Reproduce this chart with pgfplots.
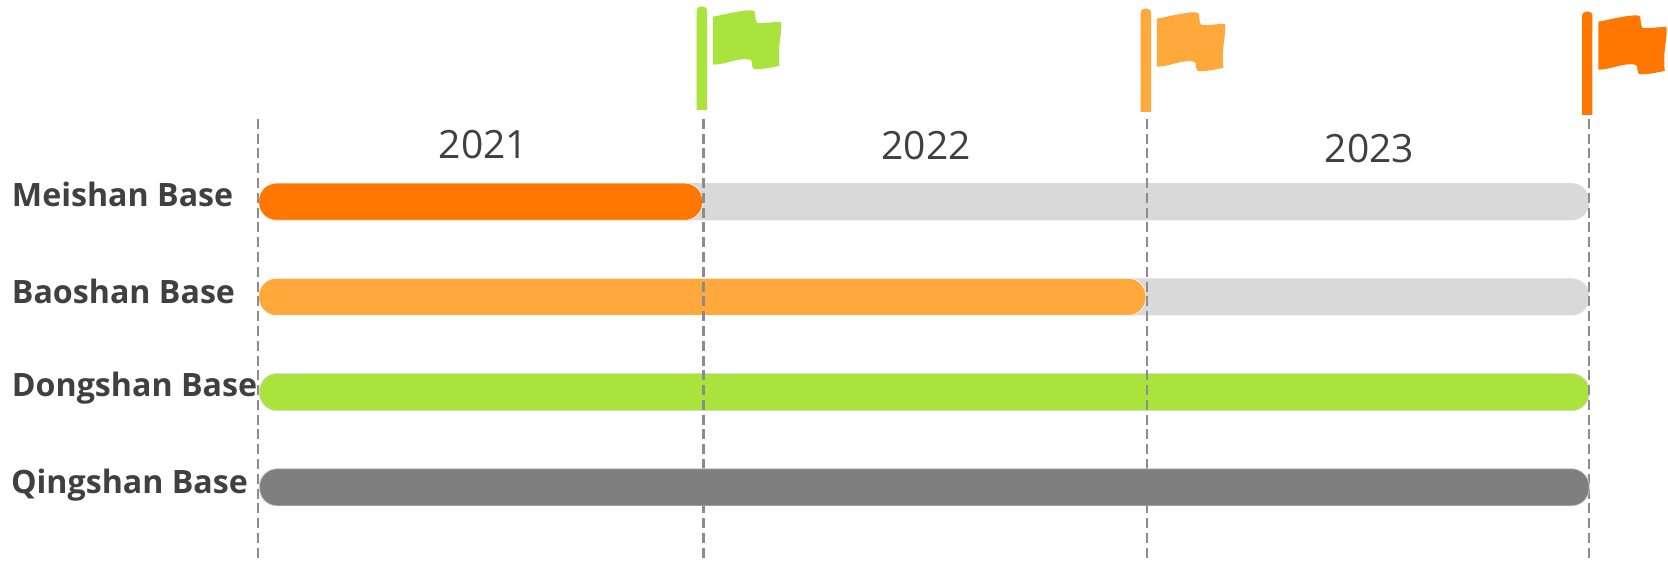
\documentclass[border=0pt]{standalone}
\usepackage{pgfplots}
\pgfplotsset{compat=1.18}
\usepackage{fontspec}
\setmainfont{Open Sans}
\definecolor{barDark}{HTML}{FF7600}
\definecolor{barLight}{HTML}{FFA93C}
\definecolor{barGreen}{HTML}{A9E33B}
\definecolor{barGrey}{HTML}{7F7F7F}
\definecolor{barTrack}{HTML}{D9D9D9}
\definecolor{guide}{HTML}{8C8C8C}
\definecolor{labelInk}{HTML}{404040}
% Pole and waving flag, origin at the foot of the pole
\pgfdeclareplotmark{milestone}{%
  \pgfpathmoveto{\pgfqpoint{-2.6pt}{0pt}}%
  \pgfpathlineto{\pgfqpoint{-2.6pt}{49.4pt}}%
  \pgfpathcurveto{\pgfqpoint{-2.6pt}{52.6pt}}{\pgfqpoint{2.6pt}{52.6pt}}{\pgfqpoint{2.6pt}{49.4pt}}%
  \pgfpathlineto{\pgfqpoint{2.6pt}{0pt}}%
  \pgfpathclose
  \pgfpathmoveto{\pgfqpoint{5.5pt}{46.6pt}}%
  \pgfpathcurveto{\pgfqpoint{13pt}{48pt}}{\pgfqpoint{22pt}{50.5pt}}{\pgfqpoint{26pt}{49.6pt}}%
  \pgfpathcurveto{\pgfqpoint{27.2pt}{49pt}}{\pgfqpoint{26.2pt}{45pt}}{\pgfqpoint{27.6pt}{43.6pt}}%
  \pgfpathcurveto{\pgfqpoint{30pt}{43pt}}{\pgfqpoint{35pt}{44pt}}{\pgfqpoint{39.6pt}{44pt}}%
  \pgfpathcurveto{\pgfqpoint{40.4pt}{39pt}}{\pgfqpoint{37.6pt}{32pt}}{\pgfqpoint{38.8pt}{22pt}}%
  \pgfpathcurveto{\pgfqpoint{34pt}{21pt}}{\pgfqpoint{29pt}{20pt}}{\pgfqpoint{26pt}{20.4pt}}%
  \pgfpathcurveto{\pgfqpoint{24.6pt}{21pt}}{\pgfqpoint{25.6pt}{24pt}}{\pgfqpoint{24.4pt}{25pt}}%
  \pgfpathcurveto{\pgfqpoint{19pt}{26.6pt}}{\pgfqpoint{12pt}{22.6pt}}{\pgfqpoint{5.5pt}{22.6pt}}%
  \pgfpathclose
  \pgfusepathqfill
}
\tikzset{
  year/.style={font=\fontsize{19.5pt}{24pt}\selectfont, anchor=center, text=labelInk},
  rowname/.style={font=\fontsize{16.1pt}{20pt}\selectfont\bfseries, anchor=base west, inner sep=0pt, text=labelInk},
}
\begin{document}
\begin{tikzpicture}
\begin{axis}[
  width=834pt, height=281.3pt, scale only axis,
  axis lines=none,
  xmin=-0.5815, xmax=3.178,
  ymin=-1.1137, ymax=4.792, y dir=reverse,
  clip=false,
]
% the full plotting area sets the size of the page
\path (rel axis cs:0,0) rectangle (rel axis cs:1,1);
% remaining-time tracks
\addplot[fill=barTrack, draw=none, rounded corners=8.8pt] coordinates {(0.002,0.81) (3.003,0.81) (3.003,1.20) (0.002,1.20)} --cycle;
\addplot[fill=barTrack, draw=none, rounded corners=8.8pt] coordinates {(0.002,1.81) (3.003,1.81) (3.003,2.20) (0.002,2.20)} --cycle;
\addplot[fill=barTrack, draw=none, rounded corners=8.8pt] coordinates {(0.002,2.81) (3.003,2.81) (3.003,3.20) (0.002,3.20)} --cycle;
\addplot[fill=barTrack, draw=none, rounded corners=8.8pt] coordinates {(0.002,3.81) (3.003,3.81) (3.003,4.20) (0.002,4.20)} --cycle;
% progress
\addplot[fill=barDark, draw=white, line width=0.3pt, rounded corners=8.8pt] coordinates {(0.002,0.81) (1.003,0.81) (1.003,1.20) (0.002,1.20)} --cycle;
\addplot[fill=barLight, draw=white, line width=0.3pt, rounded corners=8.8pt] coordinates {(0.002,1.81) (2.003,1.81) (2.003,2.20) (0.002,2.20)} --cycle;
\addplot[fill=barGreen, draw=barTrack, line width=0.3pt, rounded corners=8.8pt] coordinates {(0.004,2.81) (3.003,2.81) (3.003,3.20) (0.004,3.20)} --cycle;
% guides, one per year boundary, passing over the coloured bars
\pgfplotsinvokeforeach{0,1.005,2.006,3.003}{
  \addplot[guide, line width=1.2pt, dash pattern=on 5pt off 2.4pt, forget plot]
    coordinates {(#1,0.135) (#1,4.792)};
}
\addplot[fill=barGrey, draw=barTrack, line width=0.3pt, rounded corners=8.8pt] coordinates {(0.004,3.81) (3.003,3.81) (3.003,4.20) (0.004,4.20)} --cycle;
% milestones
\addplot[only marks, mark=milestone, mark options={fill=barGreen, draw=none}] coordinates {(1.0016,0.040)};
\addplot[only marks, mark=milestone, mark options={fill=barLight, draw=none}] coordinates {(2.003,0.061)};
\addplot[only marks, mark=milestone, mark options={fill=barDark, draw=none}] coordinates {(2.9985,0.093)};
% year captions
\node[year] at (axis cs:0.509,0.403) {2021};
\node[year] at (axis cs:1.507,0.420) {2022};
\node[year] at (axis cs:2.507,0.445) {2023};
% row names
\node[rowname] at (axis cs:-0.5555,1.055) {Meishan Base};
\node[rowname] at (axis cs:-0.5555,2.07) {Baoshan Base};
\node[rowname] at (axis cs:-0.5555,3.05) {Dongshan Base};
\node[rowname] at (axis cs:-0.5575,4.072) {Qingshan Base};
\end{axis}
\end{tikzpicture}
\end{document}
